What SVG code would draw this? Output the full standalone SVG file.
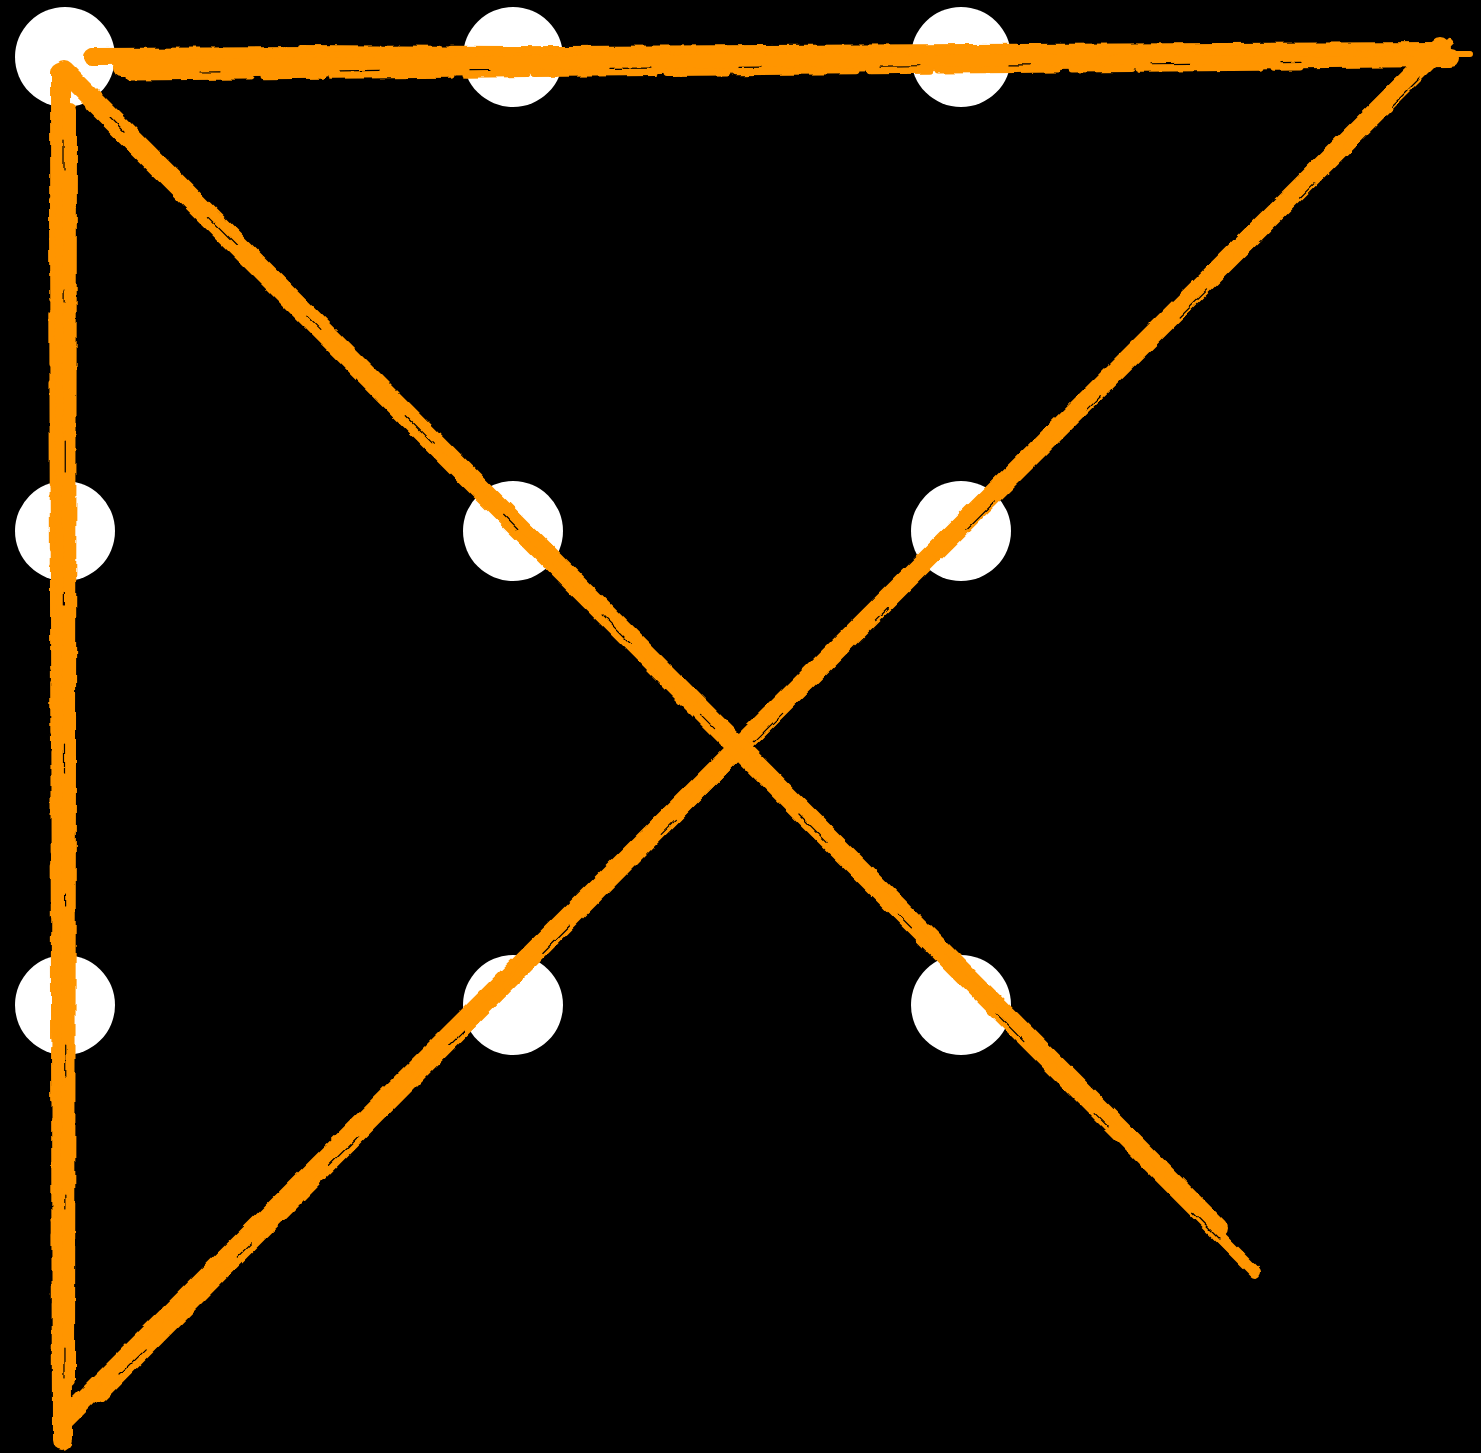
<svg xmlns="http://www.w3.org/2000/svg" width="1481" height="1453" viewBox="0 0 1481 1453">
<defs>
<style>
.dot{fill:#ffffff}
.b{fill:none;stroke:#ff9500;stroke-linecap:round}
.t{fill:none;stroke:#000;stroke-linecap:round;stroke-width:1.2}
</style>
<filter id="rough" x="-5%" y="-5%" width="110%" height="110%">
<feTurbulence type="fractalNoise" baseFrequency="0.07" numOctaves="2" seed="3" result="n"/>
<feDisplacementMap in="SourceGraphic" in2="n" scale="5" xChannelSelector="R" yChannelSelector="G"/>
</filter>
</defs>
<rect width="1481" height="1453" fill="#000"/>
<g id="dots">
<circle id="d1" class="dot" cx="65" cy="57" r="50"/>
<circle id="d2" class="dot" cx="513" cy="57" r="50"/>
<circle id="d3" class="dot" cx="961" cy="57" r="50"/>
<circle id="d4" class="dot" cx="65" cy="531" r="50"/>
<circle id="d5" class="dot" cx="513" cy="531" r="50"/>
<circle id="d6" class="dot" cx="961" cy="531" r="50"/>
<circle id="d7" class="dot" cx="65" cy="1005" r="50"/>
<circle id="d8" class="dot" cx="513" cy="1005" r="50"/>
<circle id="d9" class="dot" cx="961" cy="1005" r="50"/>
</g>
<g id="connectors" filter="url(#rough)">
<!-- top horizontal -->
<path class="b" d="M92,57 L1440,51" stroke-width="18"/>
<path class="b" d="M122,68 L1450,58" stroke-width="18"/>
<path class="b" d="M130,77 L1300,67" stroke-width="7" stroke-dasharray="120 14 60 8"/>
<path class="b" d="M300,48 L1470,54" stroke-width="6" stroke-dasharray="80 20 40 10"/>
<path class="t" d="M200,72 L1350,62" stroke-dasharray="20 120 40 90"/>
<!-- diagonal top-right to bottom-left -->
<path class="b" d="M1440,48 L64,1420" stroke-width="20"/>
<path class="b" d="M1400,84 L100,1396" stroke-width="14"/>
<path class="b" d="M1450,42 L80,1410" stroke-width="6" stroke-dasharray="90 16 40 10"/>
<path class="t" d="M1420,78 L120,1374" stroke-dasharray="40 110 20 130"/>
<!-- vertical -->
<path class="b" d="M60,72 L62,1440" stroke-width="20"/>
<path class="b" d="M70,110 L68,1380" stroke-width="14"/>
<path class="b" d="M52,200 L55,1400" stroke-width="6" stroke-dasharray="100 14 50 20"/>
<path class="t" d="M64,140 L65,1400" stroke-dasharray="30 120 12 140"/>
<!-- diagonal top-left to bottom-right -->
<path class="b" d="M64,70 L1218,1228" stroke-width="20"/>
<path class="b" d="M92,106 L1255,1272" stroke-width="12"/>
<path class="b" d="M100,98 L1230,1250" stroke-width="7" stroke-dasharray="110 14 50 10"/>
<path class="t" d="M110,117 L1220,1240" stroke-dasharray="20 120 40 100"/>
</g>
</svg>
